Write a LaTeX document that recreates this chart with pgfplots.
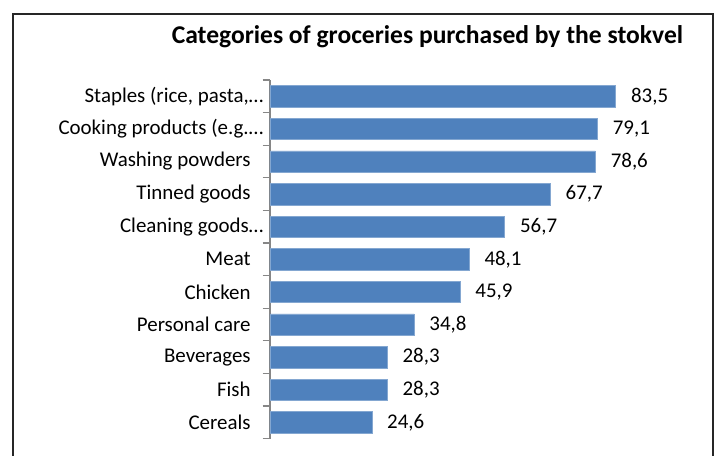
\documentclass[border=0pt]{standalone}
\usepackage{pgfplots}
\pgfplotsset{compat=1.18}
\usepackage{fontspec}
\setmainfont{Carlito}
\definecolor{barblue}{HTML}{4F81BD}
\definecolor{axgray}{HTML}{868686}
\newcommand{\ellk}{\kern-9.5pt}
\begin{document}
\begin{tikzpicture}[x=0.75pt,y=-0.75pt]
\path[use as bounding box] (0,0) rectangle (717,455);
\draw[line width=1.1pt,black!85] (13,470) -- (13,14) -- (713,14) -- (713,470);
\node[font=\bfseries\fontsize{14}{16}\selectfont, scale=1.37] at (427.5,37) {Categories of groceries purchased by the stokvel};
\coordinate (SW) at (270,438.6);
\begin{axis}[
  at={(SW)}, anchor=south west,
  scale only axis, width=310.5pt, height=268.95pt,
  xmin=0, xmax=100, ymin=-0.5, ymax=10.5, y dir=reverse,
  axis x line=none,
  axis y line*=left,
  y axis line style={axgray, line width=1pt},
  ytick={0,...,10},
  yticklabels={{Staples (rice, pasta,…\ellk},{Cooking products (e.g.…\ellk},{Washing powders},{Tinned goods},{Cleaning goods…\ellk},{Meat},{Chicken},{Personal care},{Beverages},{Fish},{Cereals}},
  major tick length=0pt,
  minor ytick={-0.5,0.5,...,10.5},
  minor tick length=5.5pt,
  tick align=outside,
  minor tick style={axgray, line width=1pt},
  yticklabel style={font=\fontsize{15.7}{17}\selectfont, xshift=-11pt},
  xbar, bar width=16pt,
  nodes near coords={\pgfmathprintnumber[fixed,zerofill,precision=1,use comma]{\pgfplotspointmeta}},
  point meta=x,
  every node near coord/.append style={font=\fontsize{15.7}{17}\selectfont, anchor=west, xshift=8pt, /pgf/number format/assume math mode=true},
  clip=false,
]
\addplot[fill=barblue, draw=barblue!70!white, line width=0.4pt] coordinates {
(83.5,0) (79.1,1) (78.6,2) (67.7,3) (56.7,4) (48.1,5) (45.9,6) (34.8,7) (28.3,8) (28.3,9) (24.6,10)};
\end{axis}
\end{tikzpicture}
\end{document}
